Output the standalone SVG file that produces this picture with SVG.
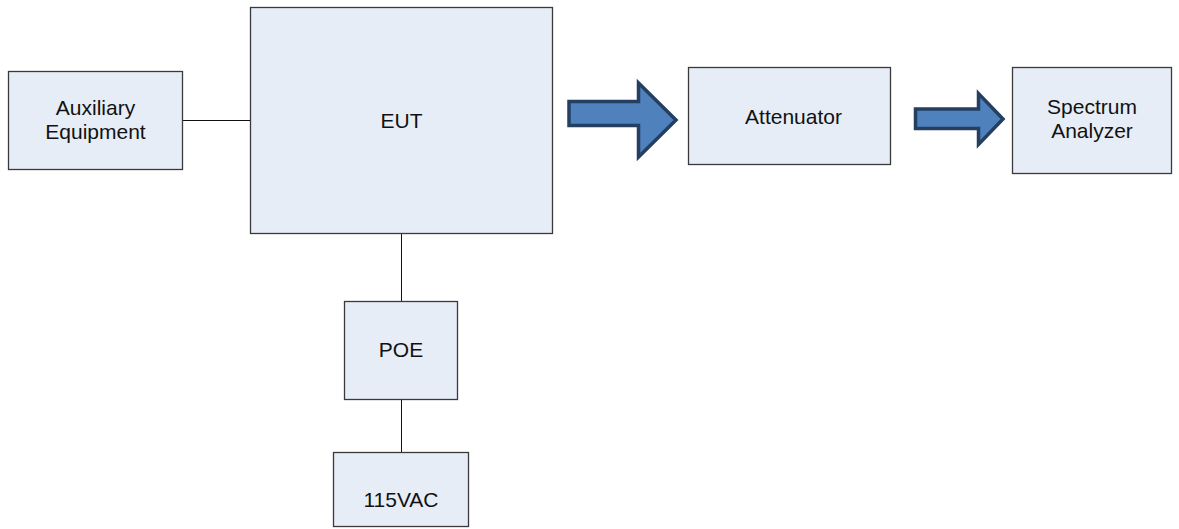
<svg xmlns="http://www.w3.org/2000/svg" width="1179" height="529" viewBox="0 0 1179 529">
<style>
.box{fill:#E7EDF7;stroke:#3a3a3a;stroke-width:1.3}
.lbl{font-family:"Liberation Sans",Arial,sans-serif;font-size:21px;fill:#111;text-anchor:middle}
.line{stroke:#111;stroke-width:1;fill:none}
.arr{fill:#4F81BD;stroke:#243F60;stroke-width:3.5;stroke-linejoin:miter}
</style>
<rect width="1179" height="529" fill="#fff"/>
<g id="connectors">
<line class="line" x1="183" y1="120.5" x2="250" y2="120.5"/>
<line class="line" x1="401.5" y1="233" x2="401.5" y2="301"/>
<line class="line" x1="401.5" y1="399" x2="401.5" y2="452"/>
<polygon class="arr" points="569,101.5 638.5,101.5 638.5,83 676,120 638.5,157 638.5,125.5 569,125.5"/>
<polygon class="arr" points="915.5,109 978.5,109 978.5,93.5 1003,119 978.5,144.5 978.5,128.5 915.5,128.5"/>
</g>
<g id="aux">
<rect class="box" x="8.5" y="71.5" width="174" height="98"/>
<text class="lbl" x="95.5" y="114.5">Auxiliary</text>
<text class="lbl" x="95.5" y="138.5">Equipment</text>
</g>
<g id="eut">
<rect class="box" x="250.5" y="7.5" width="302" height="226"/>
<text class="lbl" x="401.5" y="128">EUT</text>
</g>
<g id="poe">
<rect class="box" x="344.5" y="301.5" width="113" height="98"/>
<text class="lbl" x="401" y="357">POE</text>
</g>
<g id="vac">
<rect class="box" x="333.5" y="452.5" width="135" height="74"/>
<text class="lbl" x="401" y="507">115VAC</text>
</g>
<g id="attenuator">
<rect class="box" x="688.5" y="67.5" width="202" height="97"/>
<text class="lbl" x="793.5" y="123.5">Attenuator</text>
</g>
<g id="spectrum">
<rect class="box" x="1012.5" y="67.5" width="159" height="106"/>
<text class="lbl" x="1092" y="114">Spectrum</text>
<text class="lbl" x="1092" y="138">Analyzer</text>
</g>
</svg>
